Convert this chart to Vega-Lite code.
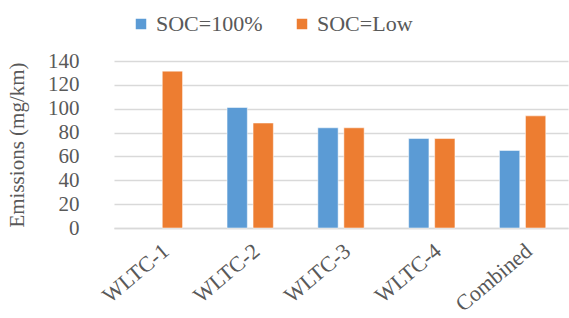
{
  "$schema": "https://vega.github.io/schema/vega-lite/v6.json",
  "width": 569,
  "height": 318,
  "autosize": {"type": "fit", "contains": "padding"},
  "padding": {"left": 6, "top": 50, "right": 1, "bottom": 2},
  "background": "white",
  "config": {
    "font": "'Liberation Serif', 'Times New Roman', Tinos, serif",
    "view": {"stroke": null},
    "axis": {"labelColor": "#595959", "titleColor": "#595959", "labelFont": "'Liberation Serif', 'Times New Roman', serif", "titleFont": "'Liberation Serif', 'Times New Roman', serif"},
    "legend": {"labelColor": "#595959", "labelFont": "'Liberation Serif', 'Times New Roman', serif"}
  },
  "data": {
    "values": [
      {"cycle": "WLTC-1", "soc": "SOC=100%", "value": null},
      {"cycle": "WLTC-1", "soc": "SOC=Low", "value": 131.5},
      {"cycle": "WLTC-2", "soc": "SOC=100%", "value": 101},
      {"cycle": "WLTC-2", "soc": "SOC=Low", "value": 88},
      {"cycle": "WLTC-3", "soc": "SOC=100%", "value": 84},
      {"cycle": "WLTC-3", "soc": "SOC=Low", "value": 84},
      {"cycle": "WLTC-4", "soc": "SOC=100%", "value": 75},
      {"cycle": "WLTC-4", "soc": "SOC=Low", "value": 75},
      {"cycle": "Combined", "soc": "SOC=100%", "value": 65},
      {"cycle": "Combined", "soc": "SOC=Low", "value": 94}
    ]
  },
  "mark": {"type": "bar", "stroke": "white", "strokeWidth": 1, "strokeOpacity": 0.5},
  "encoding": {
    "x": {
      "field": "cycle",
      "type": "nominal",
      "sort": ["WLTC-1", "WLTC-2", "WLTC-3", "WLTC-4", "Combined"],
      "scale": {"paddingInner": 0.49, "paddingOuter": 0.245},
      "axis": {
        "title": null,
        "labelAngle": -40,
        "labelFontSize": 22,
        "labelPadding": 12,
        "ticks": false,
        "domainColor": "#d9d9d9",
        "domainWidth": 1.5,
        "labelOverlap": false
      }
    },
    "xOffset": {
      "field": "soc",
      "type": "nominal",
      "scale": {"paddingInner": 0.22}
    },
    "y": {
      "field": "value",
      "type": "quantitative",
      "scale": {"domain": [0, 140]},
      "axis": {
        "title": "Emissions (mg/km)",
        "titleFontSize": 21,
        "titleFontWeight": "normal",
        "titlePadding": 20,
        "labelFontSize": 21,
        "labelPadding": 35,
        "values": [0, 20, 40, 60, 80, 100, 120, 140],
        "ticks": false,
        "domain": false,
        "gridColor": "#d9d9d9",
        "gridWidth": 1.5
      }
    },
    "color": {
      "field": "soc",
      "type": "nominal",
      "scale": {"domain": ["SOC=100%", "SOC=Low"], "range": ["#5b9bd5", "#ed7d31"]},
      "legend": {
        "title": null,
        "orient": "none",
        "legendX": 16,
        "legendY": -48,
        "direction": "horizontal",
        "labelFontSize": 22,
        "symbolType": "square",
        "symbolSize": 110,
        "symbolStrokeWidth": 0,
        "columnPadding": 28
      }
    }
  }
}
